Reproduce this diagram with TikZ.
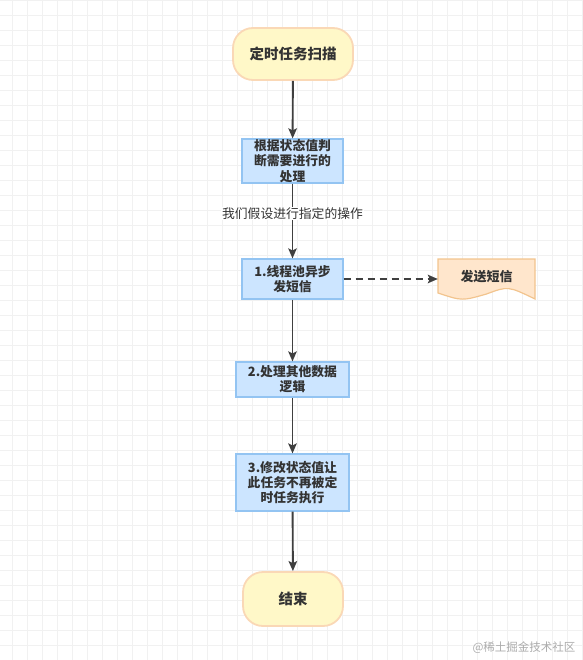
\documentclass[tikz,border=0pt]{standalone}
\usepackage{fontspec}
\setmainfont{Noto Sans CJK SC}
\usetikzlibrary{arrows.meta, positioning}
\usepackage{xcolor}
\definecolor{termfill}{HTML}{FFF8C8}
\definecolor{termline}{HTML}{FAD8B6}
\definecolor{procfill}{HTML}{CCE5FF}
\definecolor{procline}{HTML}{93C4F2}
\definecolor{docfill}{HTML}{FFE6CC}
\definecolor{docline}{HTML}{F2C48E}
\definecolor{arr}{HTML}{3F3F3F}
\definecolor{txt}{HTML}{333333}
\definecolor{gridc}{HTML}{F1F1F1}

\begin{document}
\begin{tikzpicture}[x=1pt, y=-1pt,
  term/.style={draw=termline, line width=1.8pt, fill=termfill, rounded corners=20pt,
    font=\bfseries\fontsize{14.5}{17}\selectfont, text=txt},
  proc/.style={draw=procline, line width=1.2pt, fill=procfill, align=center, inner sep=0pt,
    font=\bfseries\fontsize{12.8}{15.3}\selectfont, text=txt},
  flow/.style={draw=arr, line width=1.9pt, -{Stealth[length=10pt, width=8.5pt, inset=2pt]}},
  hint/.style={fill=white, inner sep=1pt, font=\fontsize{12.8}{15}\selectfont, text=txt}]
  \useasboundingbox (0,0) rectangle (582,660);

  % background grid
  \foreach \i in {0,...,38} \draw[gridc, line width=0.9pt] ({12.7+15*\i},0) -- ++(0,660);
  \foreach \i in {0,...,43} \draw[gridc, line width=0.9pt] (0,{0.7+15*\i}) -- ++(582,0);

  % flow steps
  \node[term, minimum width=120, minimum height=52] (scan) at (293,54) {定时任务扫描};
  \node[proc, minimum width=101, minimum height=44] (judge) at (292.5,161) {根据状态值判\\断需要进行的\\处理};
  \node[proc, minimum width=101, minimum height=40] (async) at (292.5,279) {1.线程池异步\\发短信};
  \node[proc, minimum width=113, minimum height=35] (other) at (292.5,379.5) {2.处理其他数据\\逻辑};
  \node[proc, minimum width=113, minimum height=57] (update) at (292.5,482.5) {3.修改状态值让\\此任务不再被定\\时任务执行};
  \node[term, minimum width=100, minimum height=54] (stop) at (293,599) {结束};

  % document shape
  \draw[draw=docline, line width=1.2pt, fill=docfill]
    (438,259) -- (535,259) -- (535,299)
    .. controls (508,286) .. (486.5,294)
    .. controls (462,301) .. (438,293) -- cycle;
  \node[inner sep=0pt, minimum width=97, minimum height=36, text=txt,
    font=\bfseries\fontsize{13}{15}\selectfont] (send) at (486.5,277) {发送短信};

  % connectors
  \draw[flow] (scan) -- (judge);
  \draw[flow] (judge) -- node[hint, pos=0.4] (note) {我们假设进行指定的操作} (async);
  \draw[flow, dash pattern=on 7pt off 5pt] (async.east) -- (async.east -| send.west);
  \draw[flow] (async) -- (other);
  \draw[flow] (other) -- (update);
  \draw[flow] (update) -- (stop);

  % watermark
  \node[anchor=east, text=gray!65, font=\fontsize{11.5}{13}\selectfont] (wm) at (579,648) {@稀土掘金技术社区};
\end{tikzpicture}
\end{document}
